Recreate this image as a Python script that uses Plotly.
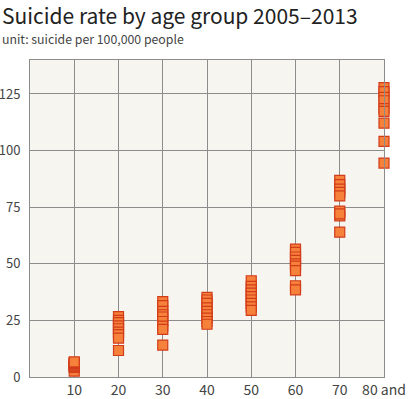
import plotly.graph_objects as go

# Age groups (x positions) and tick labels
age_groups = [10, 20, 30, 40, 50, 60, 70, 80]
tick_labels = ["10", "20", "30", "40", "50", "60", "70", "80 and"]
y_ticks = [0, 25, 50, 75, 100, 125]

# Suicide rate per 100,000 people, 2005-2013 (one value per year) for each age group
rates_10 = [2.6, 4.2, 4.5, 4.9, 5.2, 5.7, 6.0, 6.4, 6.7]
rates_20 = [26.7, 25.0, 24.0, 22.6, 21.3, 19.8, 18.7, 17.2, 11.7]
rates_30 = [33.3, 31.5, 29.0, 27.5, 26.5, 24.5, 22.5, 21.0, 14.1]
rates_40 = [35.2, 34.0, 32.5, 30.5, 29.0, 27.5, 26.0, 24.5, 23.3]
rates_50 = [42.5, 40.0, 38.5, 37.0, 35.5, 34.0, 32.5, 31.0, 29.4]
rates_60 = [56.5, 55.0, 53.0, 51.5, 50.0, 49.0, 47.0, 40.3, 38.5]
rates_70 = [86.8, 85.0, 83.0, 81.5, 80.0, 73.3, 71.2, 64.0, 72.0]
rates_80 = [127.8, 126.0, 123.5, 122.0, 118.5, 117.3, 112.1, 104.1, 94.5]

all_rates = [rates_10, rates_20, rates_30, rates_40, rates_50, rates_60, rates_70, rates_80]

xs, ys = [], []
for age, vals in zip(age_groups, all_rates):
    for v in vals:
        xs.append(age)
        ys.append(v)

fig = go.Figure()
fig.add_trace(go.Scatter(
    x=xs, y=ys, mode="markers",
    marker=dict(symbol="square", size=10, color="#f5813a",
                line=dict(color="#d23c1a", width=1.2)),
    cliponaxis=False, showlegend=False,
))

W, H = 408, 399
ML, MR, MT, MB = 30, 24, 60, 22
PW, PH = W - ML - MR, H - MT - MB


def px_x(x):
    return (x - ML) / PW


def px_y(y):
    return (H - MB - y) / PH


grid = "#8c8c8c"
fig.update_layout(
    width=W, height=H,
    margin=dict(l=ML, r=MR, t=MT, b=MB),
    paper_bgcolor="white",
    plot_bgcolor="#f6f5f0",
    font=dict(family="Noto Sans CJK KR, Noto Sans, sans-serif", color="#444"),
)
fig.add_annotation(text="Suicide rate by age group 2005\u20132013", xref="paper", yref="paper",
                   x=px_x(0), y=px_y(15), xanchor="left", yanchor="middle", showarrow=False,
                   font=dict(size=21, color="#222"))
fig.add_annotation(text="unit: suicide per 100,000 people", xref="paper", yref="paper",
                   x=px_x(0), y=px_y(39), xanchor="left", yanchor="middle", showarrow=False,
                   font=dict(size=12.3, color="#444"))

fig.update_xaxes(range=[0, 80], tickvals=age_groups, ticktext=tick_labels,
                 showgrid=True, gridcolor=grid, gridwidth=1,
                 showline=True, linecolor=grid, linewidth=1, mirror=True,
                 zeroline=False, ticks="", automargin=False,
                 tickfont=dict(size=14, color="#444"))
fig.update_yaxes(range=[0, 140], tickvals=y_ticks,
                 showgrid=True, gridcolor=grid, gridwidth=1,
                 showline=True, linecolor=grid, linewidth=1, mirror=True,
                 zeroline=False, ticks="", ticklabelstandoff=6, automargin=False,
                 tickfont=dict(size=13, color="#444"))

fig.write_html("out.html", config={"displayModeBar": False},
               post_script="document.body.style.margin='0px';")
